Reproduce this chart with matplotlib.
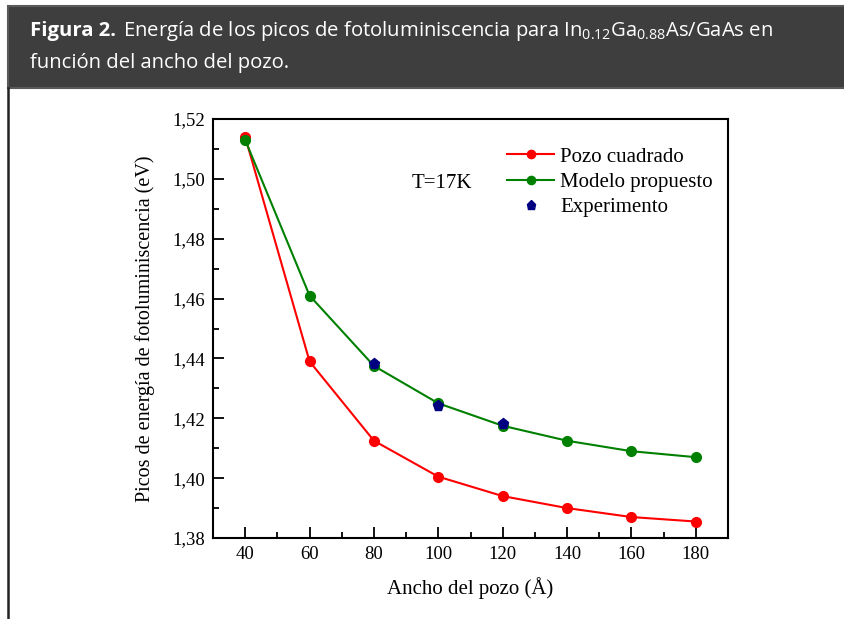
import matplotlib
matplotlib.use("Agg")
import matplotlib.pyplot as plt
from matplotlib.patches import Rectangle
from matplotlib.lines import Line2D
from matplotlib.ticker import MultipleLocator, FuncFormatter

# datos
ancho = [40, 60, 80, 100, 120, 140, 160, 180]
pozo_cuadrado = [1.514, 1.439, 1.4125, 1.4005, 1.394, 1.390, 1.387, 1.3855]
modelo = [1.513, 1.461, 1.4375, 1.425, 1.4175, 1.4125, 1.409, 1.407]
exp_x = [80, 100, 120]
exp_y = [1.438, 1.424, 1.418]

plt.rcParams['mathtext.fontset'] = 'custom'
plt.rcParams['mathtext.rm'] = 'Open Sans'

fig = plt.figure(figsize=(8.44, 6.19), dpi=100)
W, H = 844, 619

def px(x, y):
    return x / W, 1 - y / H

# cabecera
fig.patches.append(Rectangle(px(8, 88), 1, 82 / H, transform=fig.transFigure,
                             facecolor='#3e3e3e', edgecolor='#5a5a5a', lw=1.5))
fig.add_artist(Line2D([8 / W, 8 / W], [0, 1 - 88 / H], transform=fig.transFigure,
                      color='#222222', lw=1.8))

hsize = 14.6
t1 = fig.text(*px(30, 31), "Figura 2.", color='white', fontsize=hsize, fontweight='bold',
              family='Open Sans', va='center', ha='left')
fig.canvas.draw()
bb = t1.get_window_extent()
fig.text(bb.x1 / W + 7 / W, 1 - 31 / H,
         r"Energía de los picos de fotoluminiscencia para In$_{0.12}$Ga$_{0.88}$As/GaAs en",
         color='white', fontsize=hsize, family='Open Sans', va='center', ha='left')
fig.text(*px(30, 63), "función del ancho del pozo.", color='white', fontsize=hsize,
         family='Open Sans', va='center', ha='left')

# grafico
ax = fig.add_axes([213 / W, 1 - 538 / H, (728 - 213) / W, (538 - 119) / H])
ax.plot(ancho, pozo_cuadrado, '-o', color='red', lw=1.5, ms=7, label='Pozo cuadrado')
ax.plot(ancho, modelo, '-o', color='green', lw=1.5, ms=7, label='Modelo propuesto')
ax.plot(exp_x, exp_y, 'p', color='#000080', ms=8, ls='none', label='Experimento')

ax.set_xlim(30, 190)
ax.set_ylim(1.38, 1.52)
ax.xaxis.set_major_locator(MultipleLocator(20))
ax.xaxis.set_minor_locator(MultipleLocator(10))
ax.yaxis.set_major_locator(MultipleLocator(0.02))
ax.yaxis.set_minor_locator(MultipleLocator(0.01))
ax.yaxis.set_major_formatter(FuncFormatter(lambda v, p: f"{v:.2f}".replace('.', ',')))
ax.tick_params(which='both', direction='in', top=False, right=False,
               labelsize=13.5, width=1.3)
ax.tick_params(which='major', length=8, pad=6)
ax.tick_params(which='minor', length=4)
for lab in ax.get_xticklabels() + ax.get_yticklabels():
    lab.set_family('Liberation Serif')
for s in ax.spines.values():
    s.set_linewidth(1.5)

ax.set_xlabel("Ancho del pozo (Å)", family='Liberation Serif', fontsize=15, labelpad=10)
ax.set_ylabel("Picos de energía de fotoluminiscencia (eV)", family='Liberation Serif',
              fontsize=14.5, labelpad=12)
ax.text(101, 1.4985, "T=17K", family='Liberation Serif', fontsize=15, ha='center', va='center')
leg = ax.legend(loc='upper left', bbox_to_anchor=(0.571, 0.933), frameon=False,
                borderpad=0, borderaxespad=0, markerscale=0.85,
                prop={'family': 'Liberation Serif', 'size': 15}, handlelength=2.25,
                handletextpad=0.3, labelspacing=0.28)

fig.savefig("out.png", dpi=100)
